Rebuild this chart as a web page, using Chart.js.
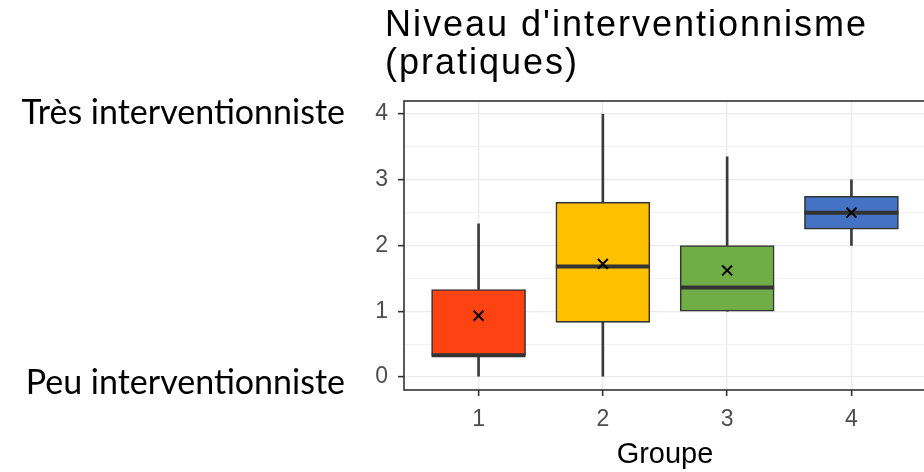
<!DOCTYPE html>
<html lang="fr">
<head>
<meta charset="utf-8">
<script src="https://cdn.jsdelivr.net/npm/chart.js@4"></script>
<style>
  html, body { margin: 0; padding: 0; background: #fff; overflow: hidden; }
  .stage { position: relative; width: 924px; height: 472px; overflow: hidden; }
  #boxChart { position: absolute; left: 0; top: 0; }
  .title {
    position: absolute; left: 385px; top: 5px;
    font-family: "Liberation Sans", Arial, sans-serif; font-size: 36px; line-height: 38px;
    letter-spacing: 2px; color: #000; white-space: nowrap;
  }
  .side {
    position: absolute; right: 579px;
    font-family: Lato, "Open Sans", sans-serif; font-size: 34px; line-height: 40px; color: #000; white-space: nowrap;
  }
</style>
</head>
<body>
<div class="stage">
  <canvas id="boxChart" width="944" height="472"></canvas>
  <div class="title">Niveau d'interventionnisme<br>(pratiques)</div>
  <div class="side" style="top: 91px;">Très interventionniste</div>
  <div class="side" style="top: 361px;">Peu interventionniste</div>
</div>
<script>
// box statistics per group
const groups = [1, 2, 3, 4];
const whiskerLow = [0, 0, 1, 2];
const q1 = [0.33, 0.83, 1, 2.25];
const medians = [0.33, 1.68, 1.36, 2.5];
const q3 = [1.33, 2.66, 2, 2.75];
const whiskerHigh = [2.33, 4, 3.35, 3];
const means = [0.93, 1.72, 1.62, 2.5];
const boxColors = ['#fd4311', '#ffc000', '#70ad47', '#4472c4'];
const yTicks = [0, 0.5, 1, 1.5, 2, 2.5, 3, 3.5, 4];

const INK = '#333333';
const AXIS_FONT = '"Liberation Sans", Arial, sans-serif';

// median bars are drawn right after the boxes so the mean marks stay on top
const medianLines = {
  id: 'medianLines',
  afterDatasetDraw(chart, args) {
    if (args.index !== 2) return;
    const { ctx } = chart;
    const yScale = chart.scales.y;
    ctx.save();
    ctx.strokeStyle = INK;
    ctx.lineWidth = 4;
    args.meta.data.forEach((bar, i) => {
      const y = yScale.getPixelForValue(medians[i]);
      ctx.beginPath();
      ctx.moveTo(bar.x - bar.width / 2, y);
      ctx.lineTo(bar.x + bar.width / 2, y);
      ctx.stroke();
    });
    ctx.restore();
  }
};

// full panel frame
const panelFrame = {
  id: 'panelFrame',
  afterDatasetsDraw(chart) {
    const { ctx, chartArea: a } = chart;
    ctx.save();
    ctx.strokeStyle = INK;
    ctx.lineWidth = 1.6;
    ctx.strokeRect(a.left, a.top, a.right - a.left, a.bottom - a.top);
    ctx.restore();
  }
};

const pairs = (lo, hi) => groups.map((g, i) => ({ x: g, y: [lo[i], hi[i]] }));
const isMajor = (c) => c.tick && Number.isInteger(c.tick.value);

new Chart(document.getElementById('boxChart'), {
  type: 'bar',
  data: {
    datasets: [
      {
        label: 'whisker low',
        data: pairs(whiskerLow, q1),
        backgroundColor: '#3a3a3a',
        barThickness: 2,
        grouped: false,
        order: 4
      },
      {
        label: 'whisker high',
        data: pairs(q3, whiskerHigh),
        backgroundColor: '#3a3a3a',
        barThickness: 2,
        grouped: false,
        order: 3
      },
      {
        label: 'box',
        data: pairs(q1, q3),
        backgroundColor: boxColors,
        borderColor: INK,
        borderWidth: 1.6,
        borderSkipped: false,
        barThickness: 94,
        grouped: false,
        order: 2
      },
      {
        type: 'scatter',
        label: 'mean',
        data: groups.map((g, i) => ({ x: g, y: means[i] })),
        pointStyle: 'crossRot',
        pointRadius: 7,
        borderColor: '#000',
        borderWidth: 2,
        order: 1
      }
    ]
  },
  options: {
    responsive: false,
    animation: false,
    layout: { padding: { left: 0, right: 18, top: 101, bottom: 0 } },
    plugins: {
      legend: { display: false },
      tooltip: { enabled: false }
    },
    scales: {
      x: {
        type: 'linear',
        min: 0.4,
        max: 4.6,
        offset: false,
        afterBuildTicks: (axis) => { axis.ticks = groups.map((v) => ({ value: v })); },
        afterFit: (axis) => { axis.height = 82; },
        border: { display: false },
        grid: {
          offset: false,
          color: '#ebebeb',
          lineWidth: 1.3,
          tickColor: INK,
          tickLength: 6,
          tickWidth: 1.6
        },
        ticks: {
          padding: 10,
          color: '#4d4d4d',
          font: { family: AXIS_FONT, size: 23 },
          callback: (v) => String(v)
        },
        title: {
          display: true,
          text: 'Groupe',
          color: '#000',
          font: { family: AXIS_FONT, size: 29 },
          padding: { top: 0, bottom: 0 }
        }
      },
      y: {
        min: -0.2,
        max: 4.2,
        afterBuildTicks: (axis) => { axis.ticks = yTicks.map((v) => ({ value: v })); },
        afterFit: (axis) => { axis.width = 404; },
        border: { display: false },
        grid: {
          color: (c) => (isMajor(c) ? '#ebebeb' : '#f2f2f2'),
          lineWidth: (c) => (isMajor(c) ? 1.3 : 1),
          tickColor: (c) => (isMajor(c) ? INK : 'rgba(0,0,0,0)'),
          tickLength: 6,
          tickWidth: 1.6
        },
        ticks: {
          padding: 10,
          color: '#4d4d4d',
          font: { family: AXIS_FONT, size: 23 },
          callback: (v) => (Number.isInteger(v) ? String(v) : '')
        }
      }
    }
  },
  plugins: [medianLines, panelFrame]
});
</script>
</body>
</html>
